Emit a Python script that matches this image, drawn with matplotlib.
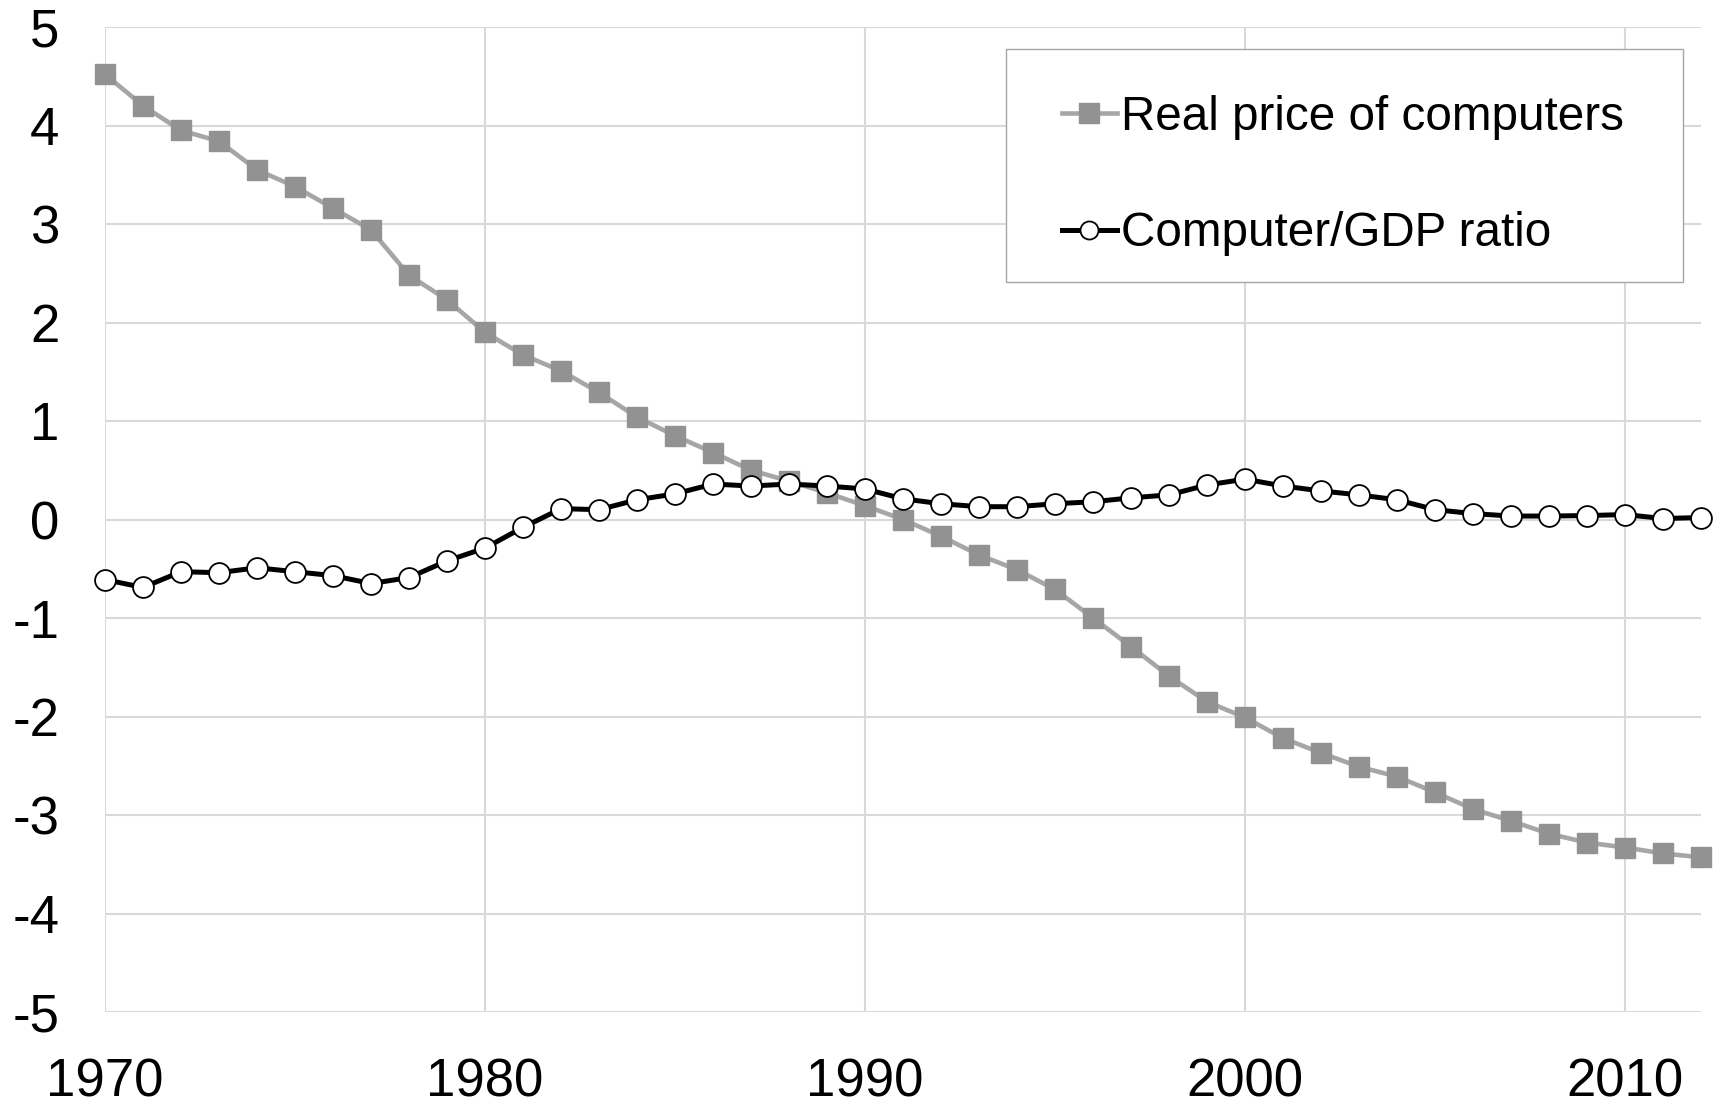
import matplotlib
matplotlib.use("Agg")
import matplotlib.pyplot as plt
from matplotlib.patches import Rectangle

years = list(range(1970, 2013))

real_price = [4.52, 4.20, 3.95, 3.84, 3.55, 3.38, 3.16, 2.94, 2.48, 2.23,
              1.90, 1.67, 1.51, 1.29, 1.04, 0.85, 0.68, 0.50, 0.39, 0.27,
              0.14, 0.00, -0.17, -0.36, -0.51, -0.71, -1.00, -1.29, -1.59, -1.85,
              -2.01, -2.22, -2.37, -2.51, -2.61, -2.77, -2.94, -3.06, -3.19, -3.28,
              -3.33, -3.39, -3.43]

computer_gdp = [-0.61, -0.69, -0.53, -0.54, -0.49, -0.53, -0.57, -0.65, -0.59, -0.42,
                -0.29, -0.08, 0.11, 0.10, 0.20, 0.26, 0.36, 0.34, 0.36, 0.34,
                0.31, 0.21, 0.16, 0.13, 0.13, 0.16, 0.18, 0.22, 0.25, 0.35,
                0.41, 0.34, 0.29, 0.25, 0.20, 0.10, 0.06, 0.035, 0.035, 0.04,
                0.05, 0.01, 0.02]

x_ticks = [1970, 1980, 1990, 2000, 2010]
y_ticks = [5, 4, 3, 2, 1, 0, -1, -2, -3, -4, -5]

plt.rcParams["font.family"] = ["Liberation Sans", "DejaVu Sans"]

W, H = 1715, 1109
fig = plt.figure(figsize=(W / 100, H / 100), dpi=100)
ax = fig.add_axes([105 / W, 1 - 1012 / H, 1596 / W, 985 / H])

l1, = ax.plot(years, real_price, color="#a6a6a6", linewidth=3.3, marker="s",
              markersize=15, markerfacecolor="#929292", markeredgecolor="#929292",
              label="Real price of computers", zorder=3, clip_on=False)
l2, = ax.plot(years, computer_gdp, color="black", linewidth=3.6, marker="o",
              markersize=15, markerfacecolor="white", markeredgecolor="black",
              markeredgewidth=1.3, label="Computer/GDP ratio", zorder=4, clip_on=False)

ax.set_xlim(1970, 2012)
ax.set_ylim(-5, 5)
ax.set_xticks(x_ticks)
ax.set_yticks(y_ticks)
ax.set_yticklabels([str(v) for v in y_ticks])
ax.tick_params(axis="both", length=0, labelsize=38)
ax.tick_params(axis="x", pad=33)
ax.tick_params(axis="y", pad=33)

ax.grid(True, color="#d9d9d9", linewidth=1.5)
ax.set_axisbelow(True)
for s in ax.spines.values():
    s.set_visible(False)

# legend box drawn separately so the padding can match the original
box = Rectangle((1006 / W, 1 - 282 / H), 677 / W, 233 / H, transform=fig.transFigure,
                facecolor="white", edgecolor="#a6a6a6", linewidth=1.0, zorder=5)
fig.add_artist(box)

leg = fig.legend(handles=[l1, l2], loc="upper left",
                 bbox_to_anchor=(1062 / W, 1 - 95 / H), fontsize=34.3,
                 frameon=False, handlelength=1.15, handletextpad=0.08,
                 labelspacing=1.5, borderpad=0, borderaxespad=0)
leg.set_zorder(6)
leg.legend_handles[0].set_markersize(14)
leg.legend_handles[1].set_markersize(13)

fig.savefig("out.png", dpi=100)
